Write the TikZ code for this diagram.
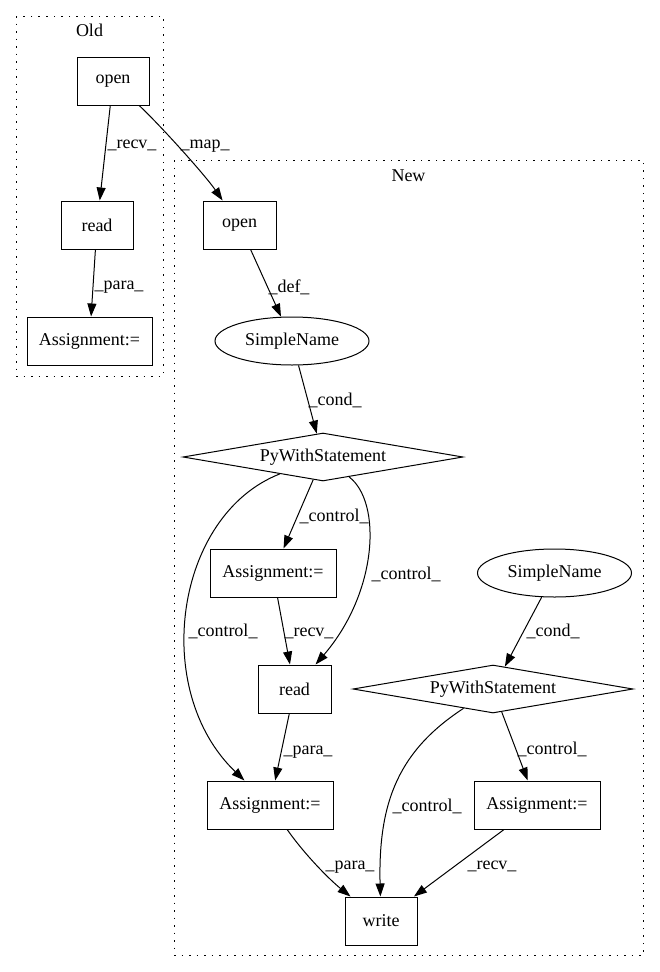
\documentclass[tikz,border=0pt]{standalone}
\usepackage{fontspec}
\setmainfont{Liberation Serif}
\usetikzlibrary{shapes.geometric,arrows.meta}
\begin{document}
\begin{tikzpicture}[x=1pt,y=-1pt,
  txt/.style={font=\fontsize{18}{20}\selectfont},
  box/.style={txt,draw,line width=1pt,minimum height=48pt,inner sep=0pt},
  ell/.style={txt,draw,ellipse,line width=1pt,minimum width=154pt,minimum height=48pt,inner sep=0pt},
  dia/.style={txt,draw,diamond,aspect=5.83,line width=1pt,minimum width=280pt,minimum height=48pt,inner sep=0pt},
  edge/.style={-{Triangle[length=13pt,width=9pt]},line width=1pt},
  lab/.style={txt,inner sep=0pt,anchor=base},
  cluster/.style={draw,line width=1pt,dash pattern=on 1.5pt off 6pt}]
\useasboundingbox (0,0) rectangle (659,972);
% clusters
\draw[cluster] (16,16) rectangle (163,376);
\draw[cluster] (174,160) rectangle (643,955);
\node[lab] (oldlbl) at (89.5,36) {Old};
\node[lab] (newlbl) at (408.5,181) {New};
% nodes
\node[box,minimum width=72pt] (oopen) at (113,81) {open};
\node[box,minimum width=72pt] (oread) at (97,225) {read};
\node[box,minimum width=125pt] (oassign) at (89.5,341) {Assignment:=};
\node[box,minimum width=73pt] (nopen) at (239.5,225) {open};
\node[ell] (sn1) at (292,341) {SimpleName};
\node[dia] (pw1) at (323,457) {PyWithStatement};
\node[box,minimum width=126pt] (a1) at (273,573) {Assignment:=};
\node[box,minimum width=73pt] (nread) at (294.5,689) {read};
\node[box,minimum width=126pt] (a2) at (270,805) {Assignment:=};
\node[ell] (sn2) at (554.5,573) {SimpleName};
\node[dia] (pw2) at (493,689) {PyWithStatement};
\node[box,minimum width=126pt] (a3) at (537,805) {Assignment:=};
\node[box,minimum width=72pt] (write) at (381,921) {write};
% edges
\draw[edge] (oopen) -- (oread);
\draw[edge] (oopen) .. controls (160,125) and (205,175) .. (nopen);
\draw[edge] (oread) -- (oassign);
\draw[edge] (nopen) -- (sn1);
\draw[edge] (sn1) -- (pw1);
\draw[edge] (pw1) -- (a1);
\draw[edge] (pw1) .. controls (382,502) and (378,592) .. (nread);
\draw[edge] (pw1) .. controls (175,515) and (150,690) .. (a2);
\draw[edge] (a1) -- (nread);
\draw[edge] (sn2) -- (pw2);
\draw[edge] (nread) -- (a2);
\draw[edge] (pw2) -- (a3);
\draw[edge] (pw2) .. controls (400,750) and (378,800) .. (write);
\draw[edge] (a2) .. controls (305,855) and (330,880) .. (write);
\draw[edge] (a3) -- (write);
% edge labels
\node[lab] (l1) at (132,148) {\_recv\_};
\node[lab] (l2) at (205,148) {\_map\_};
\node[lab] (l3) at (119,289) {\_para\_};
\node[lab] (l4) at (289,292) {\_def\_};
\node[lab] (l5) at (335,405) {\_cond\_};
\node[lab] (l6) at (334,521) {\_control\_};
\node[lab] (l7) at (406,579) {\_control\_};
\node[lab] (l8) at (223,636) {\_control\_};
\node[lab] (l9) at (309,636) {\_recv\_};
\node[lab] (l10) at (553,636) {\_cond\_};
\node[lab] (l11) at (308,754) {\_para\_};
\node[lab] (l12) at (552,754) {\_control\_};
\node[lab] (l13) at (427,811) {\_control\_};
\node[lab] (l14) at (350,869) {\_para\_};
\node[lab] (l15) at (492,869) {\_recv\_};
\end{tikzpicture}
\end{document}
